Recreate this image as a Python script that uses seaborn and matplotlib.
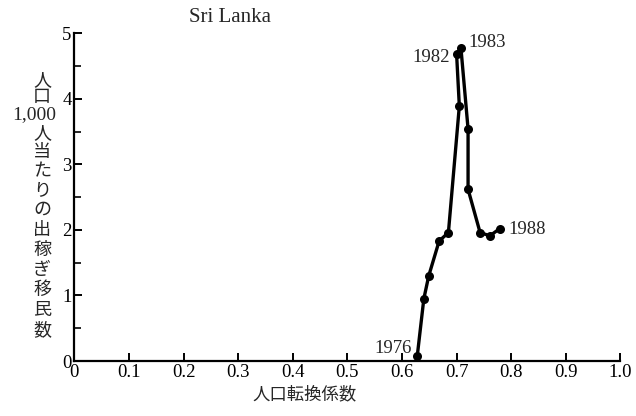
import matplotlib
matplotlib.use("Agg")
import matplotlib.pyplot as plt
import seaborn as sns
import pandas as pd
from matplotlib.ticker import MultipleLocator

# Sri Lanka: demographic transition index vs. labour emigrants per 1,000 population
years = [1976, 1977, 1978, 1979, 1980, 1981, 1982, 1983, 1984, 1985, 1986, 1987, 1988]
transition_index = [0.628, 0.640, 0.649, 0.668, 0.685, 0.705, 0.700, 0.708,
                    0.721, 0.721, 0.743, 0.761, 0.779]
emigrants_per_1000 = [0.08, 0.95, 1.30, 1.83, 1.96, 3.89, 4.68, 4.77,
                      3.54, 2.62, 1.96, 1.91, 2.02]
labelled_years = [1976, 1982, 1983, 1988]
xtick_labels = ["0", "0.1", "0.2", "0.3", "0.4", "0.5", "0.6", "0.7", "0.8", "0.9", "1.0"]

df = pd.DataFrame({"year": years, "x": transition_index, "y": emigrants_per_1000})

sns.set_theme(style="ticks")
serif = ["Liberation Serif", "DejaVu Serif"]
cjk = ["Noto Sans CJK JP", "DejaVu Sans"]
plt.rcParams["font.family"] = serif

fig = plt.figure(figsize=(6.36, 4.16), dpi=100)
ax = fig.add_axes([74.4 / 636, 1 - 361 / 416, 546 / 636, 327.7 / 416])

sns.lineplot(data=df, x="x", y="y", sort=False, estimator=None, ax=ax,
             color="black", linewidth=2.4, marker="o", markersize=6.5,
             markeredgewidth=0)

ax.set_xlim(0, 1.0)
ax.set_ylim(0, 5)
ax.set_xticks([i / 10 for i in range(11)])
ax.set_xticklabels(xtick_labels, fontsize=13.5, family=serif)
ax.set_yticks(range(6))
ax.set_yticklabels([str(i) for i in range(6)], fontsize=13.5, family=serif)
ax.yaxis.set_minor_locator(MultipleLocator(0.5))
ax.tick_params(axis="both", which="major", direction="in", length=6, width=1.4,
               colors="black", pad=2)
ax.tick_params(axis="y", which="minor", direction="in", length=5, width=1.4)
for side in ("top", "right"):
    ax.spines[side].set_visible(False)
for side in ("left", "bottom"):
    ax.spines[side].set_linewidth(1.6)
    ax.spines[side].set_color("black")

ax.set_xlabel("人口転換係数", fontsize=12.5, family=cjk)
ax.xaxis.set_label_coords(0.422, -0.075)
ax.set_ylabel("")

# year labels next to selected points
offsets = {1976: (-4, 5, "right"), 1982: (-5, -2, "right"),
           1983: (5, 4, "left"), 1988: (6, -1, "left")}
for yr in labelled_years:
    row = df[df["year"] == yr].iloc[0]
    dx, dy, ha = offsets[yr]
    ax.annotate(str(yr), (row["x"], row["y"]), xytext=(dx, dy),
                textcoords="offset points", ha=ha, va="center",
                fontsize=13.5, family=serif)

ax.text(0.285, 1.047, "Sri Lanka", transform=ax.transAxes, ha="center",
        va="center", fontsize=15, family=serif)

# vertical y-axis title, one glyph per row
ylabel_rows = ["人", "口", "1,000", "人", "当", "た", "り", "の", "出", "稼", "ぎ", "移", "民", "数"]
row_y = [80, 97, 115, 133, 152, 171, 190, 210, 230, 250, 270, 290, 310, 330]
for txt, py in zip(ylabel_rows, row_y):
    digits = txt[0].isdigit()
    fig.text(42 / 636 if not digits else 34 / 636, 1 - py / 416, txt,
             ha="center", va="center",
             fontsize=14 if digits else 13, family=serif if digits else cjk)

fig.savefig("out.png", dpi=100, facecolor="white")
